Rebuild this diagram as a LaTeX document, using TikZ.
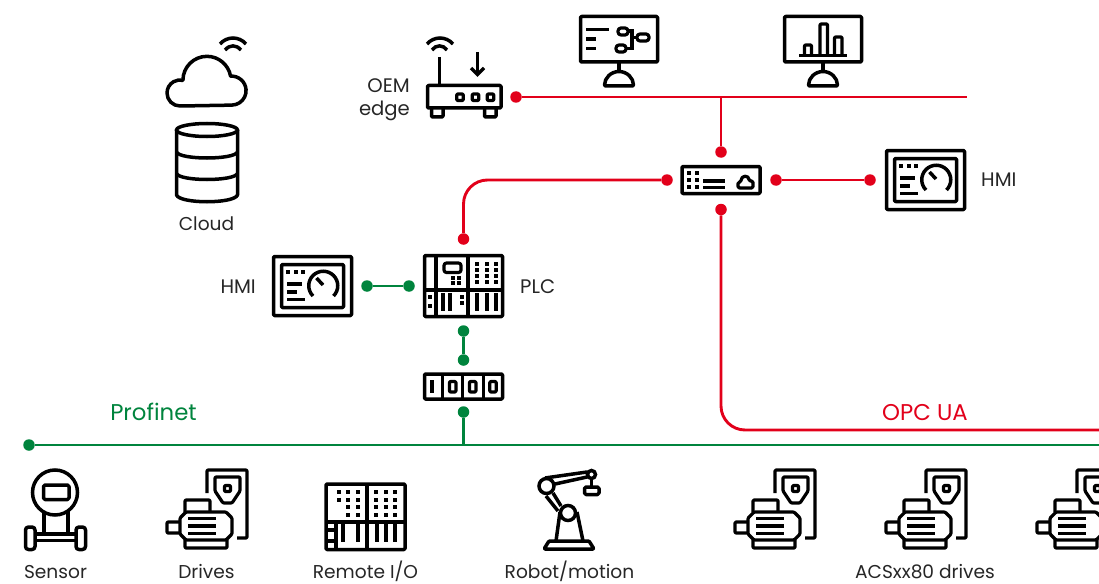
\documentclass[tikz,border=0pt]{standalone}
\usepackage{fontspec}
\setmainfont{Poppins}
\definecolor{abbred}{RGB}{226,0,26}
\definecolor{abbgreen}{RGB}{0,132,61}
\newcommand\sqdots[2]{\foreach \xx in {#1} \foreach \yy in {#2} \fill (\xx-2,\yy-2) rectangle +(4,4);}
\tikzset{
  ico/.style={line width=3.5pt,line join=round,line cap=butt,rounded corners=1pt,draw=black,fill=none},
  redline/.style={draw=abbred,line width=2.9pt},
  greenline/.style={draw=abbgreen,line width=2.9pt},
  reddot/.style={circle,fill=abbred,inner sep=0pt,minimum size=11.5pt},
  greendot/.style={circle,fill=abbgreen,inner sep=0pt,minimum size=11.5pt},
  lbl/.style={font=\fontsize{18.6}{22}\selectfont,text=black!85,inner sep=0pt},
  lblb/.style={font=\fontsize{19.6}{23}\selectfont,text=black!85,inner sep=0pt},
  netlbl/.style={font=\fontsize{22.8}{26}\selectfont,inner sep=0pt},
  motor/.pic={
    \draw[ico,line width=3.2pt] (0,23) -- (0,0) -- (40,0) -- (40,68) -- (30,68);
    \draw[ico,line width=3.2pt] (8,7) -- (33,7) -- (33,21) -- (25,33) -- (16,33) -- (8,21) -- cycle;
    \draw[ico,line width=3.2pt] (17.5,15.5) rectangle (23.5,21.5);
    \fill[white] (-21,42) -- (19,42) -- (25,48) -- (25,64) -- (19,70) -- (-21,70) -- (-27,64) -- (-27,48) -- cycle;
    \draw[ico,line width=3.2pt] (-21,42) -- (19,42) -- (25,48) -- (25,64) -- (19,70) -- (-21,70) -- (-27,64) -- (-27,48) -- cycle;
    \draw[ico,line width=3.2pt] (-22,42) -- (-22,30) -- (3,30) -- (3,42);
    \draw[ico,line width=3.2pt] (-22,70) -- (-22,78) -- (20,78) -- (20,70);
    \draw[ico,line width=3.2pt] (-27,52) -- (-40,52) -- (-40,63) -- (-27,63);
    \foreach \yy in {48.3,56,63.3} \draw[line width=3.5pt] (-19,\yy) -- (9,\yy);
  },
  hmi/.pic={
    \draw[ico] (1.5,1.5) rectangle (79.5,60.5);
    \draw[ico] (9.5,9.5) rectangle (71.5,52.5);
    \sqdots{16,23.5,31}{16.5}
    \draw[line width=3.5pt] (15,29) -- (30,29);
    \draw[line width=3.5pt] (15,37) -- (25,37);
    \draw[line width=3.5pt] (15,44.5) -- (33,44.5);
    \draw[line width=3.5pt] (41,41) arc[start angle=135,end angle=405,radius=14.5];
    \draw[line width=3.5pt] (44.5,23) -- (51,30);
  },
  monitor/.pic={
    \draw[ico] (1.5,1.5) rectangle (78.5,47);
    \draw[line width=3.5pt] (40,47) -- (40,56);
    \draw[ico] (25.5,71) arc[start angle=180,end angle=360,radius=14.5] -- cycle;
  },
}
\begin{document}
\begin{tikzpicture}[x=1pt,y=-1pt]
\useasboundingbox (0,0) rectangle (1099,583);
% dots and free ends
\node[reddot] (rOem) at (516,97) {};
\coordinate (rEnd) at (967,97);
\coordinate (rJoin) at (721,97);
\node[reddot] (rSwTop) at (721,152) {};
\node[reddot] (rSwLeft) at (667,180) {};
\node[reddot] (rPlc) at (463.5,239) {};
\node[reddot] (rSwRight) at (776,180) {};
\node[reddot] (rHmi) at (870,180) {};
\node[reddot] (rSwBot) at (721,209.5) {};
\coordinate (rOpc) at (1099,430);
\node[greendot] (gHmi) at (367,286) {};
\node[greendot] (gPlcL) at (409,286) {};
\node[greendot] (gPlcB) at (463.5,331) {};
\node[greendot] (gSwT) at (463.5,360) {};
\node[greendot] (gSwB) at (463.5,412) {};
\node[greendot] (gBus) at (29,445) {};
\coordinate (gEnd) at (1099,445);
% connectors
\draw[redline] (rOem) -- (rEnd);
\draw[redline] (rJoin) -- (rSwTop);
\draw[redline,rounded corners=24pt] (rSwLeft) -| (rPlc);
\draw[redline] (rSwRight) -- (rHmi);
\draw[redline,rounded corners=24pt] (rSwBot) |- (rOpc);
\draw[greenline] (gHmi) -- (gPlcL);
\draw[greenline] (gPlcB) -- (gSwT);
\draw[greenline] (gBus) -- (gEnd);
\draw[greenline] (gSwB) -- (gSwB |- gBus);
% cloud
\draw[ico,rounded corners=0pt] (180,106) arc[start angle=90,end angle=283,radius=13] arc[start angle=180,end angle=350,radius=24] arc[start angle=266,end angle=450,radius=14.5] -- cycle;
\draw[line width=3.5pt] (220,44) .. controls (227,36) and (239,36) .. (246,44);
\draw[line width=3.5pt] (225,50) .. controls (230,44.5) and (236,44.5) .. (241,50);
% database
\draw[line width=3.5pt] (207,130) ellipse[x radius=30.5,y radius=6.5];
\draw[line width=3.5pt,line join=round] (176.5,130) -- (176.5,195) .. controls (180,204) and (234,204) .. (237.5,195) -- (237.5,130);
\draw[line width=3.5pt] (176.5,152) .. controls (180,160) and (234,160) .. (237.5,152);
\draw[line width=3.5pt] (176.5,173.5) .. controls (180,181.5) and (234,181.5) .. (237.5,173.5);
\node[lbl,anchor=base] (lCloud) at (206.5,230) {Cloud};
% router
\draw[line width=3.5pt] (427,44) .. controls (434,36) and (446,36) .. (453,44);
\draw[line width=3.5pt] (432,50) .. controls (436,44.5) and (443,44.5) .. (447,50);
\draw[line width=3.5pt] (439.5,57) -- (439.5,86);
\draw[line width=3.5pt] (477.5,52) -- (477.5,74);
\draw[line width=3.5pt,line join=miter] (471,68) -- (477.5,74.5) -- (484,68);
\draw[ico] (427.5,85.5) rectangle (501,108);
\draw[ico] (431.5,108) -- (431.5,117) -- (443,117) -- (443,108);
\draw[ico] (484.5,108) -- (484.5,117) -- (496,117) -- (496,108);
\foreach \xx in {460,475.5,490.5} \draw[ico,line width=3.2pt] (\xx-3.3,94) rectangle (\xx+3.3,100.5);
\node[lblb,anchor=base east] (lOem) at (410,92.3) {OEM};
\node[lblb,anchor=base east] (lEdge) at (410,115.7) {edge};
% monitors
\pic at (579,15) {monitor};
\draw[line width=3.5pt] (586,29.5) -- (609,29.5);
\draw[line width=3.5pt] (586,39) -- (596,39);
\draw[line width=3.5pt] (586,48.5) -- (596,48.5);
\draw[ico,line width=3.2pt,rounded corners=3pt] (618,28) rectangle (628,35);
\draw[ico,line width=3.2pt,rounded corners=3pt] (616,45) rectangle (626,52);
\draw[ico,line width=3.2pt,rounded corners=3pt] (637,34) rectangle (649,41);
\draw[line width=3.2pt] (628,31) -- (632,31) -- (632,48.5) -- (626,48.5);
\draw[line width=3.2pt] (632,37.5) -- (637,37.5);
\pic at (783,15) {monitor};
\draw[line width=3.5pt] (799,55.5) -- (847,55.5);
\draw[ico,line width=3.2pt] (804.5,55) -- (804.5,45) -- (811.5,45) -- (811.5,55);
\draw[ico,line width=3.2pt] (820,55) -- (820,24) -- (827.5,24) -- (827.5,55);
\draw[ico,line width=3.2pt] (834.5,55) -- (834.5,37) -- (842,37) -- (842,55);
% industrial switch
\draw[ico] (682,166.5) rectangle (760,193.5);
\sqdots{688.7,696.7}{173,180,187}
\draw[line width=3.5pt] (703,181) -- (725,181);
\draw[line width=3.5pt] (703,187.5) -- (725,187.5);
\draw[ico,line width=3.2pt,rounded corners=1.5pt] (738,188) -- (738,182) -- (741,182) .. controls (741,175) and (749,175) .. (749,181) -- (753,181) -- (753,188) -- cycle;
% HMIs
\pic at (885,149) {hmi};
\node[lblb,anchor=base west] (lHmiR) at (981,186.5) {HMI};
\pic at (272,255) {hmi};
\node[lblb,anchor=base east] (lHmiL) at (256,293) {HMI};
% PLC
\draw[ico] (424.5,255.5) rectangle (502.5,316.5);
\draw[line width=3.5pt] (436,255.5) -- (436,316.5);
\draw[line width=3.5pt] (468,255.5) -- (468,316.5);
\draw[line width=3.5pt] (424.5,290) -- (502.5,290);
\draw[ico,line width=3.2pt,rounded corners=2.5pt] (444,263) rectangle (461,272.5);
\sqdots{453,459}{278,283}
\sqdots{477,487,496}{264,270,276,282}
\sqdots{430}{297,306}
\sqdots{462}{297,302.5}
\foreach \xx in {443,450} \draw[line width=3.5pt] (\xx,293) -- (\xx,311);
\foreach \xx in {477,487,496} \draw[line width=3.5pt] (\xx,293) -- (\xx,311);
\node[lblb,anchor=base west] (lPlc) at (520,293) {PLC};
% fieldbus switch
\draw[ico] (424.5,374) rectangle (502.5,399);
\foreach \xx in {442.7,462.7,483.3} \draw[line width=3.5pt] (\xx,374) -- (\xx,399);
\draw[line width=3.8pt] (431.8,380) -- (431.8,393);
\foreach \xx in {452.7,472.7,493} \draw[ico,line width=3.2pt] (\xx-3.2,381.5) rectangle (\xx+3.2,392);
% network labels
\node[netlbl,text=abbgreen,anchor=base] (lPn) at (153.5,420) {Profinet};
\node[netlbl,text=abbred,anchor=base] (lOpc) at (925,420) {OPC UA};
% sensor
\draw[line width=3.5pt] (55,492.5) circle[radius=22.5];
\draw[ico,rounded corners=1.5pt] (43.5,485) rectangle (69,499.5);
\draw[line width=3.5pt] (44,511) -- (44,533);
\draw[line width=3.5pt] (68,511) -- (68,533);
\draw[line width=4pt] (34,533.5) -- (76,533.5);
\draw[line width=3.5pt] (34,540.5) -- (76,540.5);
\draw[ico,rounded corners=3pt] (25.5,527) rectangle (35,549.5);
\draw[ico,rounded corners=3pt] (76,527) rectangle (85.5,549.5);
\node[lbl,anchor=base] (lSensor) at (55.5,578) {Sensor};
% drives
\pic at (207,470) {motor};
\node[lbl,anchor=base] (lDrives) at (206.5,578) {Drives};
\pic at (775,470) {motor};
\pic at (926,470) {motor};
\pic at (1077,470) {motor};
\node[lbl,anchor=base] (lAcs) at (925,578) {ACSxx80 drives};
% remote IO
\draw[ico] (326,484) rectangle (405,549.5);
\draw[line width=3.5pt] (367,484) -- (367,549.5);
\draw[line width=3.5pt] (326,522) -- (405,522);
\sqdots{348,358}{492,500}
\sqdots{339}{492,500}
\sqdots{348,358}{507,515}
\sqdots{376,386,395}{492,500,507,515}
\draw[line width=3.5pt] (336,522) -- (336,549.5);
\draw[line width=3.5pt] (326,530) -- (336,530);
\draw[line width=3.5pt] (326,541) -- (336,541);
\foreach \xx in {343,358,377,386,395} \draw[line width=3.5pt] (\xx,522) -- (\xx,542);
\node[lbl,anchor=base] (lRem) at (365.5,578) {Remote I/O};
% robot
\draw[ico] (544,549) -- (549,541) -- (589,541) -- (594,549) -- cycle;
\draw[line width=3.5pt] (556,541) -- (560,512);
\draw[line width=3.5pt] (583,541) -- (577,512);
\draw[line width=3.5pt] (553,493) -- (561,506);
\draw[line width=3.5pt] (546,496) -- (558,511);
\draw[line width=3.5pt] (545,478) -- (587,472);
\draw[line width=3.5pt] (555,484) -- (587,477);
\draw[fill=white,line width=3.5pt] (568,513) circle[radius=7.5];
\draw[fill=white,line width=3.5pt] (546.5,486) circle[radius=7.5];
\draw[fill=white,line width=3.5pt] (591.5,474.5) circle[radius=4];
\draw[line width=3.5pt] (591.5,479) -- (591.5,487);
\draw[ico,rounded corners=1.5pt] (584.5,487) rectangle (599,494.5);
\node[lbl,anchor=base] (lRob) at (569.5,578) {Robot/motion};
\end{tikzpicture}
\end{document}
